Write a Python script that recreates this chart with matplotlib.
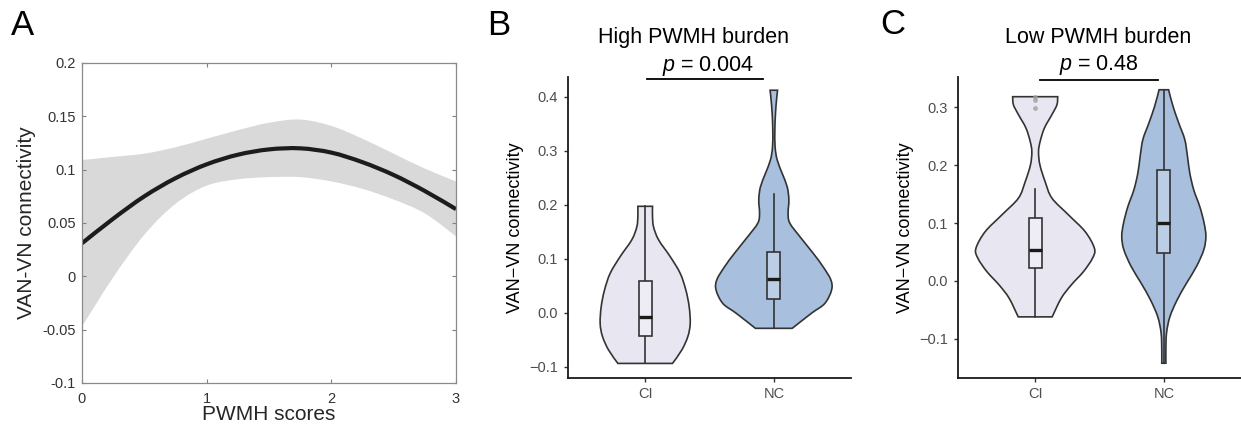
import numpy as np
import matplotlib
matplotlib.use('Agg')
import matplotlib.pyplot as plt
from matplotlib.patches import Rectangle, PathPatch
from matplotlib.path import Path

plt.rcParams['font.family'] = ['Liberation Sans', 'DejaVu Sans']
plt.rcParams['mathtext.fontset'] = 'custom'
plt.rcParams['mathtext.it'] = 'Liberation Sans:italic'
plt.rcParams['mathtext.rm'] = 'Liberation Sans'

# ---- panel A: fitted curve + confidence band ----
pwmh = [0, 0.25, 0.5, 0.75, 1.0, 1.25, 1.5, 1.75, 2.0, 2.25, 2.5, 2.75, 3.0]
fit = [0.031, 0.054, 0.075, 0.092, 0.105, 0.114, 0.119, 0.120, 0.116, 0.107, 0.095, 0.080, 0.063]
band_hi = [0.109, 0.112, 0.115, 0.121, 0.129, 0.137, 0.144, 0.147, 0.141, 0.129, 0.115, 0.101, 0.089]
band_lo = [-0.047, -0.001, 0.039, 0.068, 0.085, 0.091, 0.093, 0.093, 0.089, 0.082, 0.072, 0.059, 0.0375]
a_yticks = [-0.1, -0.05, 0, 0.05, 0.1, 0.15, 0.2]
a_ylabels = ['-0.1', '-0.05', '0', '0.05', '0.1', '0.15', '0.2']

# ---- panels B, C: violin outlines (value, half width) + box stats ----
groups = ['CI', 'NC']

hi_ci_y = [-0.094, -0.069, -0.044, -0.020, 0.011, 0.042, 0.073, 0.104, 0.135, 0.159, 0.178, 0.197]
hi_ci_w = [0.212, 0.285, 0.332, 0.350, 0.342, 0.316, 0.272, 0.194, 0.104, 0.065, 0.057, 0.057]
hi_nc_y = [-0.029, -0.001, 0.017, 0.042, 0.061, 0.085, 0.110, 0.141, 0.166, 0.184, 0.209,
           0.233, 0.258, 0.283, 0.307, 0.338, 0.369, 0.394, 0.412]
hi_nc_w = [0.143, 0.293, 0.396, 0.449, 0.443, 0.383, 0.306, 0.202, 0.124, 0.111, 0.117,
           0.104, 0.065, 0.026, 0.010, 0.008, 0.013, 0.021, 0.029]
hi_ci_box = [-0.094, -0.043, -0.0085, 0.059, 0.197]   # whisk lo, q1, median, q3, whisk hi
hi_nc_box = [-0.029, 0.025, 0.062, 0.113, 0.219]

lo_ci_y = [-0.062, -0.030, -0.007, 0.016, 0.039, 0.056, 0.085, 0.114, 0.143, 0.171, 0.200,
           0.223, 0.241, 0.264, 0.287, 0.304, 0.318]
lo_ci_w = [0.132, 0.202, 0.280, 0.375, 0.445, 0.461, 0.389, 0.259, 0.130, 0.078, 0.037,
           0.026, 0.039, 0.072, 0.130, 0.169, 0.175]
lo_nc_y = [-0.142, -0.119, -0.090, -0.062, -0.033, -0.004, 0.025, 0.054, 0.077, 0.100, 0.128,
           0.157, 0.186, 0.215, 0.244, 0.272, 0.301, 0.330]
lo_nc_w = [0.016, 0.016, 0.021, 0.047, 0.103, 0.176, 0.254, 0.311, 0.327, 0.313, 0.280,
           0.233, 0.202, 0.184, 0.163, 0.117, 0.072, 0.037]
lo_ci_box = [-0.062, 0.023, 0.054, 0.109, 0.158]
lo_nc_box = [-0.142, 0.048, 0.100, 0.191, 0.330]
lo_ci_outliers = [0.318, 0.313, 0.298]

violin_col = {'CI': '#E8E6F0', 'NC': '#A8BFDD'}
box_col = {'CI': '#EEECF4', 'NC': '#BCCDE6'}
edge = '#333333'

W, H = 1241, 425
fig = plt.figure(figsize=(W / 100, H / 100), dpi=100)

def fx(px):
    return px / W

def fy(py):
    return 1 - py / H


def bezier_through(pts):
    # smooth Bezier segments passing through the given points (Catmull-Rom style)
    pts = np.asarray(pts, float)
    ext = np.vstack([pts[0], pts, pts[-1]])
    verts, codes = [], []
    for i in range(1, len(ext) - 2):
        p0, p1, p2, p3 = ext[i - 1], ext[i], ext[i + 1], ext[i + 2]
        verts += [p1 + (p2 - p0) / 6, p2 - (p3 - p1) / 6, p2]
        codes += [Path.CURVE4] * 3
    return verts, codes


def smooth_line(x, y):
    pts = np.column_stack([x, y])
    v, c = bezier_through(pts)
    return Path([pts[0]] + v, [Path.MOVETO] + c)


# ---------------- A ----------------
axA = fig.add_axes([fx(82), fy(383), fx(456) - fx(82), fy(63) - fy(383)])
up = np.column_stack([pwmh, band_hi])
lo = np.column_stack([pwmh, band_lo])[::-1]
v1, c1 = bezier_through(up)
v2, c2 = bezier_through(lo)
band_path = Path([up[0]] + v1 + [lo[0]] + v2 + [up[0]],
                 [Path.MOVETO] + c1 + [Path.LINETO] + c2 + [Path.CLOSEPOLY])
axA.add_patch(PathPatch(band_path, facecolor='#D9D9D9', lw=0))
axA.add_patch(PathPatch(smooth_line(pwmh, fit), fill=False, edgecolor='#1c1c1c', lw=3.0,
                        capstyle='butt'))
axA.set_xlim(0, 3)
axA.set_ylim(-0.1, 0.2)
axA.set_xticks([0, 1, 2, 3])
axA.set_yticks(a_yticks)
axA.set_yticklabels(a_ylabels)
axA.tick_params(direction='in', top=True, right=True, length=3, width=0.8,
                color='#808080', labelsize=10.5, labelcolor='#333333')
axA.tick_params(axis='x', pad=6.5)
axA.tick_params(axis='y', pad=4.3)
for s in axA.spines.values():
    s.set_color('#8a8a8a')
    s.set_linewidth(0.9)
fig.text(fx(27), fy(223), 'VAN-VN connectivity', rotation=90, ha='center', va='center',
         fontsize=15, color='#262626')
fig.text(fx(269), fy(415), 'PWMH scores', ha='center', va='center', fontsize=15, color='#262626')
fig.text(fx(11), fy(35), 'A', fontsize=25, va='baseline', ha='left')


def violin_path(c, y, w):
    y = np.asarray(y, float)
    w = np.asarray(w, float)
    right = np.column_stack([c + w, y])
    left = np.column_stack([c - w, y])[::-1]
    vr, cr = bezier_through(right)
    vl, cl = bezier_through(left)
    verts = [left[-1], right[0]] + vr + [left[0]] + vl + [left[-1]]
    codes = [Path.MOVETO, Path.LINETO] + cr + [Path.LINETO] + cl + [Path.CLOSEPOLY]
    return Path(verts, codes)


def violin_panel(ax, data, boxes, ylim, yticks, ytlabels):
    for i, g in enumerate(groups):
        c = i + 1
        y, w = data[g]
        ax.add_patch(PathPatch(violin_path(c, y, w), facecolor=violin_col[g], edgecolor=edge,
                               lw=1.2, zorder=2))
        wl, q1, med, q3, wh = boxes[g]
        ax.plot([c, c], [wl, q1], color=edge, lw=1.2, zorder=3)
        ax.plot([c, c], [q3, wh], color=edge, lw=1.2, zorder=3)
        ax.add_patch(Rectangle((c - 0.05, q1), 0.1, q3 - q1, facecolor=box_col[g],
                               edgecolor=edge, lw=1.2, zorder=4))
        ax.plot([c - 0.05, c + 0.05], [med, med], color='#1a1a1a', lw=2.4, zorder=5,
                solid_capstyle='butt')
    ax.set_xlim(0.4, 2.6)
    ax.set_ylim(*ylim)
    ax.set_xticks([1, 2])
    ax.set_xticklabels(groups)
    ax.set_yticks(yticks)
    ax.set_yticklabels(ytlabels)
    for s in ['top', 'right']:
        ax.spines[s].set_visible(False)
    for s in ['left', 'bottom']:
        ax.spines[s].set_color('#1a1a1a')
        ax.spines[s].set_linewidth(1.3)
    ax.tick_params(length=3, width=1, color='#333333', labelsize=10.5, labelcolor='#4D4D4D')
    ax.tick_params(axis='y', pad=4.3)
    ax.tick_params(axis='x', pad=3.3)


# ---------------- B ----------------
axB = fig.add_axes([fx(568), fy(378), fx(851) - fx(568), fy(77) - fy(378)])
violin_panel(axB, {'CI': (hi_ci_y, hi_ci_w), 'NC': (hi_nc_y, hi_nc_w)},
             {'CI': hi_ci_box, 'NC': hi_nc_box}, (-0.121, 0.4365),
             [-0.1, 0.0, 0.1, 0.2, 0.3, 0.4], ['\u22120.1', '0.0', '0.1', '0.2', '0.3', '0.4'])
axB.plot([1.014, 1.916], [0.432, 0.432], color='black', lw=1.3, clip_on=False)
fig.text(fx(694), fy(42.7), 'High PWMH burden', ha='center', va='baseline', fontsize=15.5)
fig.text(fx(708), fy(70.7), '$p$ = 0.004', ha='center', va='baseline', fontsize=15.5)
fig.text(fx(515), fy(227.5), 'VAN\u2212VN connectivity', rotation=90, ha='center', va='center',
         fontsize=13)
fig.text(fx(487), fy(35), 'B', fontsize=25, va='baseline', ha='left')

# ---------------- C ----------------
axC = fig.add_axes([fx(958), fy(378), fx(1241) - fx(958), fy(77) - fy(378)])
violin_panel(axC, {'CI': (lo_ci_y, lo_ci_w), 'NC': (lo_nc_y, lo_nc_w)},
             {'CI': lo_ci_box, 'NC': lo_nc_box}, (-0.1675, 0.352),
             [-0.1, 0.0, 0.1, 0.2, 0.3], ['\u22120.1', '0.0', '0.1', '0.2', '0.3'])
axC.scatter([1] * len(lo_ci_outliers), lo_ci_outliers, s=12, color='#A0A0A0', alpha=0.8,
            lw=0, zorder=6)
axC.plot([1.037, 1.955], [0.347, 0.347], color='black', lw=1.3, clip_on=False)
fig.text(fx(1098), fy(42.7), 'Low PWMH burden', ha='center', va='baseline', fontsize=15.5)
fig.text(fx(1099), fy(70), '$p$ = 0.48', ha='center', va='baseline', fontsize=15.5)
fig.text(fx(905), fy(227.5), 'VAN\u2212VN connectivity', rotation=90, ha='center', va='center',
         fontsize=13)
fig.text(fx(880), fy(33.5), 'C', fontsize=25, va='baseline', ha='left')

fig.savefig('out.png', dpi=100)
